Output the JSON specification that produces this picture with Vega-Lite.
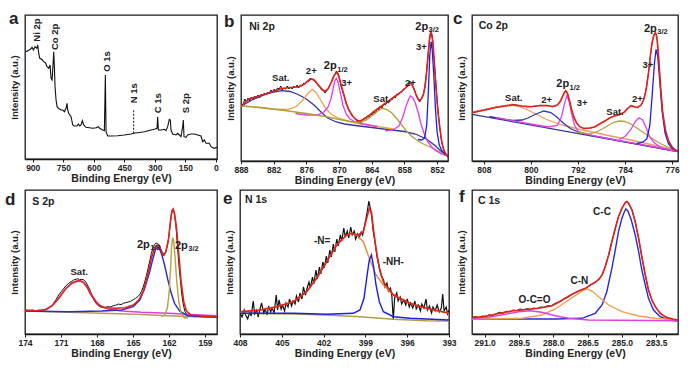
{
"$schema": "https://vega.github.io/schema/vega-lite/v6.json",
"background": "white",
"padding": {"left": 4, "top": 9, "right": 4, "bottom": 4},
"config": {
  "font": "Liberation Sans",
  "view": {"stroke": "#1a1a1a", "strokeWidth": 1.3},
  "axis": {"grid": false, "labelFont": "Liberation Sans", "labelFontWeight": "bold", "labelFontSize": 8.5, "labelColor": "#222", "titleFont": "Liberation Sans", "titleFontWeight": "bold", "titleColor": "#222", "domainColor": "#1a1a1a", "tickColor": "#1a1a1a", "domainWidth": 1.3},
  "axisX": {"tickSize": 3, "labelPadding": 1, "titlePadding": 2, "titleFontSize": 10.5, "labelFlush": false, "labelOverlap": false},
  "axisY": {"labels": false, "ticks": false, "domain": false, "titleFontSize": 9.5, "titlePadding": 6},
  "text": {"font": "Liberation Sans", "fontWeight": "bold", "color": "#222"}
},
"datasets": {
  "a_raw": [{"x":932.7,"y":107.3},{"x":924.5,"y":108.3},{"x":911.5,"y":109.7},{"x":903.3,"y":111.7},{"x":896.7,"y":109},{"x":888.5,"y":112.3},{"x":880.4,"y":110.7},{"x":875.5,"y":114},{"x":870.5,"y":105.7},{"x":865.6,"y":100.7},{"x":855.8,"y":99.7},{"x":846,"y":97.3},{"x":837.8,"y":96.3},{"x":829.6,"y":92.3},{"x":821.5,"y":90.7},{"x":814.9,"y":94},{"x":810,"y":80.7},{"x":805.1,"y":79},{"x":801.8,"y":89},{"x":796.9,"y":107.3},{"x":793.6,"y":92.3},{"x":790.4,"y":72.3},{"x":785.5,"y":59},{"x":780.5,"y":52.3},{"x":774,"y":50.7},{"x":760.9,"y":49},{"x":752.7,"y":49},{"x":744.5,"y":47.3},{"x":736.4,"y":50.7},{"x":731.5,"y":55.7},{"x":728.2,"y":49},{"x":723.3,"y":45.7},{"x":711.8,"y":42.3},{"x":703.6,"y":34},{"x":695.5,"y":33},{"x":682.4,"y":33},{"x":675.8,"y":35},{"x":669.3,"y":33},{"x":662.7,"y":34},{"x":656.2,"y":38.3},{"x":649.6,"y":34},{"x":638.2,"y":31.7},{"x":621.8,"y":31.3},{"x":605.5,"y":30.7},{"x":589.1,"y":31.3},{"x":577.6,"y":32.3},{"x":571.1,"y":30.7},{"x":556.4,"y":29},{"x":548.2,"y":28.3},{"x":543.3,"y":84},{"x":540,"y":27.3},{"x":531.8,"y":23},{"x":515.5,"y":23},{"x":482.7,"y":23.3},{"x":450,"y":24},{"x":417.3,"y":25},{"x":404.2,"y":25.7},{"x":384.5,"y":26.3},{"x":351.8,"y":27.3},{"x":319.1,"y":29},{"x":302.7,"y":29.7},{"x":289.6,"y":30.7},{"x":286.4,"y":42.3},{"x":283.1,"y":29},{"x":270,"y":29},{"x":253.6,"y":29.7},{"x":245.5,"y":28.3},{"x":237.3,"y":32.3},{"x":229.1,"y":39.7},{"x":224.2,"y":39},{"x":220.9,"y":29},{"x":212.7,"y":25},{"x":196.4,"y":24},{"x":188.2,"y":25.7},{"x":180,"y":24},{"x":171.8,"y":22.3},{"x":163.6,"y":32.3},{"x":160.4,"y":39},{"x":157.1,"y":22.3},{"x":147.3,"y":21.7},{"x":139.1,"y":24},{"x":122.7,"y":25},{"x":106.4,"y":25},{"x":90,"y":24},{"x":73.6,"y":23},{"x":65.5,"y":17.3},{"x":57.3,"y":19},{"x":49.1,"y":15.7},{"x":32.7,"y":15.7},{"x":24.5,"y":12.3},{"x":8.2,"y":10.7},{"x":-4.9,"y":11.7}],
  "b_raw": [{"x":887.9,"y":55},{"x":887.6,"y":57},{"x":887.3,"y":62},{"x":887,"y":59},{"x":886.7,"y":63},{"x":886.4,"y":60},{"x":886.1,"y":64},{"x":885.8,"y":61},{"x":885.5,"y":65},{"x":885.2,"y":63},{"x":884.9,"y":66},{"x":884.6,"y":63},{"x":884.3,"y":67},{"x":884,"y":65},{"x":883.7,"y":68},{"x":883.4,"y":66},{"x":883.1,"y":69},{"x":882.8,"y":67},{"x":882.5,"y":71},{"x":882.2,"y":69},{"x":881.9,"y":72},{"x":881.6,"y":70},{"x":881.3,"y":73},{"x":881,"y":72},{"x":880.7,"y":75},{"x":880.4,"y":71},{"x":880.1,"y":73},{"x":879.8,"y":72},{"x":879.5,"y":75},{"x":879.2,"y":72},{"x":878.9,"y":74},{"x":878.6,"y":72},{"x":878.3,"y":75},{"x":878,"y":73},{"x":877.7,"y":76},{"x":877.4,"y":73},{"x":877.1,"y":76},{"x":876.8,"y":75},{"x":876.5,"y":78},{"x":876.2,"y":77},{"x":875.9,"y":80},{"x":875.6,"y":79},{"x":875.3,"y":83},{"x":875,"y":81},{"x":874.7,"y":82},{"x":874.4,"y":79},{"x":874.1,"y":78},{"x":873.8,"y":75},{"x":873.5,"y":74},{"x":873.2,"y":71},{"x":872.9,"y":71},{"x":872.6,"y":68},{"x":872.3,"y":70},{"x":872,"y":72},{"x":871.7,"y":76},{"x":871.4,"y":79},{"x":871.1,"y":84},{"x":870.8,"y":86},{"x":870.5,"y":90},{"x":870.2,"y":88},{"x":869.9,"y":82},{"x":869.6,"y":74},{"x":869.3,"y":69},{"x":869,"y":64},{"x":868.7,"y":58},{"x":868.4,"y":54},{"x":868.1,"y":50},{"x":867.8,"y":48},{"x":867.5,"y":45},{"x":867.2,"y":43},{"x":866.9,"y":42},{"x":866.6,"y":39},{"x":866.3,"y":41},{"x":866,"y":38},{"x":865.7,"y":41},{"x":865.4,"y":43},{"x":865.1,"y":42},{"x":864.8,"y":45},{"x":864.5,"y":44},{"x":864.2,"y":47},{"x":863.9,"y":46},{"x":863.6,"y":49},{"x":863.3,"y":48},{"x":863,"y":52},{"x":862.7,"y":51},{"x":862.4,"y":55},{"x":862.1,"y":53},{"x":861.8,"y":57},{"x":861.5,"y":56},{"x":861.2,"y":59},{"x":860.9,"y":58},{"x":860.6,"y":62},{"x":860.3,"y":61},{"x":860,"y":64},{"x":859.7,"y":63},{"x":859.4,"y":67},{"x":859.1,"y":66},{"x":858.8,"y":69},{"x":858.5,"y":69},{"x":858.2,"y":72},{"x":857.9,"y":72},{"x":857.6,"y":75},{"x":857.3,"y":76},{"x":857,"y":80},{"x":856.7,"y":78},{"x":856.4,"y":74},{"x":856.1,"y":70},{"x":855.8,"y":65},{"x":855.5,"y":62},{"x":855.2,"y":59},{"x":854.9,"y":62},{"x":854.6,"y":65},{"x":854.3,"y":72},{"x":854,"y":86},{"x":853.7,"y":103},{"x":853.4,"y":121},{"x":853.2,"y":129},{"x":853,"y":127},{"x":852.8,"y":120},{"x":852.6,"y":104},{"x":852.4,"y":90},{"x":852.1,"y":68},{"x":851.8,"y":48},{"x":851.5,"y":33},{"x":851.2,"y":20},{"x":850.9,"y":13},{"x":850.6,"y":8},{"x":850.3,"y":5},{"x":850,"y":4}],
  "b_fit": [{"x":887.9,"y":55},{"x":886.5,"y":62},{"x":885,"y":64.5},{"x":883.5,"y":67},{"x":882,"y":70},{"x":880.5,"y":72.5},{"x":879,"y":73.5},{"x":877.5,"y":74},{"x":876.5,"y":76.5},{"x":875.5,"y":81},{"x":875,"y":82},{"x":874.5,"y":80.5},{"x":873.8,"y":76},{"x":873,"y":71},{"x":872.5,"y":70},{"x":872,"y":72.5},{"x":871.4,"y":79},{"x":870.9,"y":85.5},{"x":870.5,"y":88.5},{"x":870.2,"y":87},{"x":869.8,"y":80},{"x":869.3,"y":70},{"x":868.8,"y":60},{"x":868.3,"y":52},{"x":867.6,"y":45.5},{"x":867,"y":42},{"x":866.5,"y":40},{"x":866,"y":40.5},{"x":865.4,"y":42},{"x":864.5,"y":45.5},{"x":863.6,"y":49.5},{"x":862.7,"y":53},{"x":861.8,"y":56.5},{"x":860.9,"y":60},{"x":859.9,"y":64},{"x":859,"y":67.5},{"x":858.1,"y":71.5},{"x":857.4,"y":75},{"x":857,"y":77.5},{"x":856.7,"y":77},{"x":856.3,"y":73},{"x":855.9,"y":67},{"x":855.5,"y":62},{"x":855.2,"y":60.5},{"x":854.9,"y":62},{"x":854.5,"y":67},{"x":854.2,"y":75},{"x":853.9,"y":90},{"x":853.6,"y":110},{"x":853.35,"y":124},{"x":853.15,"y":128.5},{"x":852.95,"y":126},{"x":852.75,"y":117},{"x":852.5,"y":98},{"x":852.2,"y":74},{"x":851.9,"y":52},{"x":851.5,"y":33},{"x":851.1,"y":18},{"x":850.7,"y":10},{"x":850.3,"y":6},{"x":850,"y":5}],
  "b_comp": [
    {"s":"Sat. 2p1/2","x":887.9,"y":55},{"s":"Sat. 2p1/2","x":886,"y":61},{"s":"Sat. 2p1/2","x":884,"y":65.5},{"s":"Sat. 2p1/2","x":882,"y":69},{"s":"Sat. 2p1/2","x":880.5,"y":70.3},{"s":"Sat. 2p1/2","x":879,"y":69.5},{"s":"Sat. 2p1/2","x":877.5,"y":66.5},{"s":"Sat. 2p1/2","x":876,"y":62},{"s":"Sat. 2p1/2","x":874.6,"y":56},{"s":"Sat. 2p1/2","x":873.5,"y":50},{"s":"Sat. 2p1/2","x":872.1,"y":43},{"s":"Sat. 2p1/2","x":870.5,"y":39},{"s":"Sat. 2p1/2","x":869,"y":37},{"s":"Sat. 2p1/2","x":867,"y":35.5},{"s":"Sat. 2p1/2","x":864,"y":33.5},{"s":"Sat. 2p1/2","x":861,"y":31.5},{"s":"Sat. 2p1/2","x":858,"y":29.5},{"s":"Sat. 2p1/2","x":856,"y":27},{"s":"Sat. 2p1/2","x":854,"y":22},{"s":"Sat. 2p1/2","x":852.5,"y":16},{"s":"Sat. 2p1/2","x":851.5,"y":11},{"s":"Sat. 2p1/2","x":850.8,"y":7.5},{"s":"Sat. 2p1/2","x":850,"y":5.5},
    {"s":"Ni2+ 2p1/2","x":887.9,"y":55},{"s":"Ni2+ 2p1/2","x":885,"y":54},{"s":"Ni2+ 2p1/2","x":882,"y":52},{"s":"Ni2+ 2p1/2","x":879.5,"y":51.5},{"s":"Ni2+ 2p1/2","x":878,"y":54},{"s":"Ni2+ 2p1/2","x":876.8,"y":60},{"s":"Ni2+ 2p1/2","x":875.8,"y":67},{"s":"Ni2+ 2p1/2","x":874.9,"y":71.7},{"s":"Ni2+ 2p1/2","x":874.2,"y":68.5},{"s":"Ni2+ 2p1/2","x":873.4,"y":61},{"s":"Ni2+ 2p1/2","x":872.5,"y":53},{"s":"Ni2+ 2p1/2","x":871.5,"y":47},{"s":"Ni2+ 2p1/2","x":870,"y":42.5},{"s":"Ni2+ 2p1/2","x":868,"y":39.5},{"s":"Ni2+ 2p1/2","x":866,"y":37},{"s":"Ni2+ 2p1/2","x":863,"y":34.5},{"s":"Ni2+ 2p1/2","x":860,"y":32},
    {"s":"Ni3+ 2p1/2","x":878,"y":47.5},{"s":"Ni3+ 2p1/2","x":876,"y":46},{"s":"Ni3+ 2p1/2","x":874,"y":46},{"s":"Ni3+ 2p1/2","x":872.8,"y":49},{"s":"Ni3+ 2p1/2","x":872,"y":54},{"s":"Ni3+ 2p1/2","x":871.5,"y":62},{"s":"Ni3+ 2p1/2","x":871.1,"y":72},{"s":"Ni3+ 2p1/2","x":870.8,"y":79.5},{"s":"Ni3+ 2p1/2","x":870.5,"y":82.7},{"s":"Ni3+ 2p1/2","x":870.2,"y":79.5},{"s":"Ni3+ 2p1/2","x":869.8,"y":69},{"s":"Ni3+ 2p1/2","x":869.3,"y":56},{"s":"Ni3+ 2p1/2","x":868.7,"y":47},{"s":"Ni3+ 2p1/2","x":868,"y":42},{"s":"Ni3+ 2p1/2","x":867,"y":39},{"s":"Ni3+ 2p1/2","x":865.5,"y":37},{"s":"Ni3+ 2p1/2","x":863,"y":34.5},
    {"s":"Sat. 2p3/2","x":887.9,"y":55},{"s":"Sat. 2p3/2","x":884,"y":53},{"s":"Sat. 2p3/2","x":880,"y":50.5},{"s":"Sat. 2p3/2","x":876,"y":47.5},{"s":"Sat. 2p3/2","x":872,"y":44},{"s":"Sat. 2p3/2","x":869,"y":40.5},{"s":"Sat. 2p3/2","x":867,"y":38.5},{"s":"Sat. 2p3/2","x":866,"y":38.8},{"s":"Sat. 2p3/2","x":865,"y":41},{"s":"Sat. 2p3/2","x":864,"y":45},{"s":"Sat. 2p3/2","x":863,"y":49.5},{"s":"Sat. 2p3/2","x":862.1,"y":52.7},{"s":"Sat. 2p3/2","x":861.2,"y":51.5},{"s":"Sat. 2p3/2","x":860.3,"y":48},{"s":"Sat. 2p3/2","x":859.4,"y":42.5},{"s":"Sat. 2p3/2","x":858.5,"y":36},{"s":"Sat. 2p3/2","x":857.5,"y":29},{"s":"Sat. 2p3/2","x":856.5,"y":24},{"s":"Sat. 2p3/2","x":855.5,"y":20},{"s":"Sat. 2p3/2","x":854.5,"y":17},{"s":"Sat. 2p3/2","x":853.5,"y":14.5},{"s":"Sat. 2p3/2","x":852.5,"y":12},{"s":"Sat. 2p3/2","x":851.5,"y":9},{"s":"Sat. 2p3/2","x":850.5,"y":6.5},{"s":"Sat. 2p3/2","x":850,"y":5.5},
    {"s":"Ni2+ 2p3/2","x":861.5,"y":30},{"s":"Ni2+ 2p3/2","x":860,"y":31.5},{"s":"Ni2+ 2p3/2","x":859,"y":35},{"s":"Ni2+ 2p3/2","x":858.3,"y":44},{"s":"Ni2+ 2p3/2","x":857.7,"y":55},{"s":"Ni2+ 2p3/2","x":857.2,"y":62},{"s":"Ni2+ 2p3/2","x":856.9,"y":65},{"s":"Ni2+ 2p3/2","x":856.5,"y":63.5},{"s":"Ni2+ 2p3/2","x":856,"y":58},{"s":"Ni2+ 2p3/2","x":855.5,"y":49},{"s":"Ni2+ 2p3/2","x":855,"y":38},{"s":"Ni2+ 2p3/2","x":854.4,"y":27.5},{"s":"Ni2+ 2p3/2","x":853.8,"y":20},{"s":"Ni2+ 2p3/2","x":853,"y":14},{"s":"Ni2+ 2p3/2","x":852.3,"y":10.5},{"s":"Ni2+ 2p3/2","x":851.4,"y":7.7},{"s":"Ni2+ 2p3/2","x":850.5,"y":5.5},
    {"s":"Ni3+ 2p3/2","x":855.5,"y":21.5},{"s":"Ni3+ 2p3/2","x":854.8,"y":21},{"s":"Ni3+ 2p3/2","x":854.3,"y":23},{"s":"Ni3+ 2p3/2","x":853.9,"y":36},{"s":"Ni3+ 2p3/2","x":853.6,"y":70},{"s":"Ni3+ 2p3/2","x":853.35,"y":105},{"s":"Ni3+ 2p3/2","x":853.1,"y":119.3},{"s":"Ni3+ 2p3/2","x":852.9,"y":112},{"s":"Ni3+ 2p3/2","x":852.6,"y":85},{"s":"Ni3+ 2p3/2","x":852.3,"y":52},{"s":"Ni3+ 2p3/2","x":852,"y":29},{"s":"Ni3+ 2p3/2","x":851.6,"y":16},{"s":"Ni3+ 2p3/2","x":851.1,"y":10},{"s":"Ni3+ 2p3/2","x":850.6,"y":7},{"s":"Ni3+ 2p3/2","x":850,"y":5.5}
  ],
  "c_raw": [{"x":809.99,"y":48.3},{"x":809.7,"y":49.5},{"x":809.42,"y":49.3},{"x":809.1,"y":50.3},{"x":808.85,"y":50},{"x":808.5,"y":51},{"x":808,"y":50.7},{"x":807.6,"y":52},{"x":807.15,"y":51.7},{"x":806.7,"y":53.3},{"x":806.29,"y":53},{"x":805.9,"y":54.3},{"x":805.44,"y":54},{"x":805,"y":55.3},{"x":804.59,"y":55},{"x":804.2,"y":56},{"x":803.74,"y":55.7},{"x":803.3,"y":57},{"x":802.88,"y":56.3},{"x":802.6,"y":56.7},{"x":802.32,"y":55.7},{"x":801.9,"y":55.3},{"x":801.46,"y":54.3},{"x":801,"y":54.7},{"x":800.61,"y":53.7},{"x":800.2,"y":54.7},{"x":799.76,"y":54.3},{"x":799.3,"y":55.3},{"x":798.91,"y":55},{"x":798.5,"y":56},{"x":798.05,"y":55.7},{"x":797.6,"y":55.7},{"x":797.2,"y":55.3},{"x":796.8,"y":54.7},{"x":796.35,"y":54},{"x":796.05,"y":54.7},{"x":795.78,"y":55},{"x":795.5,"y":56.3},{"x":795.21,"y":58.3},{"x":795,"y":60.3},{"x":794.76,"y":63.3},{"x":794.55,"y":66},{"x":794.36,"y":68.3},{"x":794.2,"y":69.7},{"x":794.07,"y":70.3},{"x":793.93,"y":69.3},{"x":793.79,"y":67.7},{"x":793.65,"y":65},{"x":793.51,"y":61.7},{"x":793.3,"y":56.3},{"x":793.11,"y":51.7},{"x":792.9,"y":47},{"x":792.65,"y":43.3},{"x":792.4,"y":40},{"x":792.2,"y":37.7},{"x":791.9,"y":35.7},{"x":791.69,"y":34.3},{"x":791.3,"y":33.3},{"x":790.95,"y":32.3},{"x":790.5,"y":32.7},{"x":790.1,"y":32.7},{"x":789.7,"y":33.3},{"x":789.24,"y":34},{"x":788.8,"y":35.3},{"x":788.39,"y":36.7},{"x":788,"y":38.3},{"x":787.54,"y":39.7},{"x":787.1,"y":41.3},{"x":786.69,"y":42.7},{"x":786.3,"y":44},{"x":785.83,"y":45},{"x":785.4,"y":45.7},{"x":784.98,"y":46.3},{"x":784.55,"y":47.7},{"x":784.13,"y":49},{"x":783.85,"y":50.7},{"x":783.56,"y":52.3},{"x":783.27,"y":54},{"x":782.99,"y":55.7},{"x":782.7,"y":55},{"x":782.42,"y":54.3},{"x":782.13,"y":53.7},{"x":781.85,"y":53},{"x":781.57,"y":54.3},{"x":781.29,"y":55.7},{"x":781.05,"y":58.3},{"x":780.83,"y":61.7},{"x":780.63,"y":66},{"x":780.43,"y":71.7},{"x":780.23,"y":80},{"x":780.03,"y":88.3},{"x":779.85,"y":97},{"x":779.69,"y":105},{"x":779.55,"y":112},{"x":779.41,"y":118.3},{"x":779.27,"y":122.5},{"x":779.12,"y":125.7},{"x":779,"y":127.5},{"x":778.9,"y":128.3},{"x":778.73,"y":127.7},{"x":778.62,"y":124.5},{"x":778.5,"y":120},{"x":778.38,"y":111},{"x":778.27,"y":101.7},{"x":778.13,"y":88},{"x":777.99,"y":75},{"x":777.8,"y":61},{"x":777.59,"y":48.3},{"x":777.36,"y":38},{"x":777.14,"y":30},{"x":776.88,"y":24.3},{"x":776.62,"y":20},{"x":776.3,"y":16.5},{"x":776,"y":14},{"x":775.7,"y":12.3},{"x":775.43,"y":11},{"x":775.2,"y":10.3},{"x":775,"y":9.7}],
  "c_fit": [{"x":810,"y":48.3},{"x":808,"y":50.7},{"x":806,"y":53.5},{"x":804,"y":55.3},{"x":802.9,"y":56.3},{"x":801.5,"y":55},{"x":800,"y":54.2},{"x":798.5,"y":55.2},{"x":797.2,"y":55.5},{"x":796.3,"y":54.5},{"x":795.5,"y":56},{"x":795,"y":59.5},{"x":794.6,"y":64.5},{"x":794.3,"y":68.5},{"x":794.07,"y":70.3},{"x":793.8,"y":68},{"x":793.5,"y":61.7},{"x":793.1,"y":51.7},{"x":792.65,"y":43.3},{"x":792.2,"y":37.7},{"x":791.7,"y":34.3},{"x":791,"y":32.6},{"x":790.1,"y":32.7},{"x":789.2,"y":34},{"x":788.4,"y":36.7},{"x":787.5,"y":39.7},{"x":786.7,"y":42.7},{"x":785.8,"y":45},{"x":785,"y":46.3},{"x":784.1,"y":49},{"x":783.6,"y":52.3},{"x":783,"y":55.2},{"x":782.4,"y":54.3},{"x":781.9,"y":53.5},{"x":781.3,"y":55.7},{"x":780.8,"y":61.7},{"x":780.4,"y":71.7},{"x":780,"y":88.3},{"x":779.7,"y":105},{"x":779.4,"y":118.3},{"x":779.1,"y":125.7},{"x":778.85,"y":128.3},{"x":778.6,"y":124},{"x":778.4,"y":112},{"x":778.2,"y":95},{"x":777.9,"y":70},{"x":777.6,"y":48.3},{"x":777.1,"y":30},{"x":776.6,"y":20},{"x":776,"y":14},{"x":775.4,"y":11},{"x":775,"y":9.7}],
  "c_comp": [
    {"s":"bg","x":810,"y":46.7},{"s":"bg","x":775,"y":9.3},
    {"s":"Sat. 2p1/2","x":810,"y":48.3},{"s":"Sat. 2p1/2","x":808,"y":51},{"s":"Sat. 2p1/2","x":806,"y":53.5},{"s":"Sat. 2p1/2","x":804.5,"y":55.3},{"s":"Sat. 2p1/2","x":803.2,"y":55.7},{"s":"Sat. 2p1/2","x":802,"y":54.5},{"s":"Sat. 2p1/2","x":800.5,"y":51},{"s":"Sat. 2p1/2","x":799,"y":46.5},{"s":"Sat. 2p1/2","x":797.5,"y":42},{"s":"Sat. 2p1/2","x":796,"y":38.5},{"s":"Sat. 2p1/2","x":794,"y":35},{"s":"Sat. 2p1/2","x":792,"y":32},{"s":"Sat. 2p1/2","x":790,"y":29.5},{"s":"Sat. 2p1/2","x":788,"y":27},{"s":"Sat. 2p1/2","x":786,"y":24.5},{"s":"Sat. 2p1/2","x":783,"y":21},{"s":"Sat. 2p1/2","x":780,"y":17},{"s":"Sat. 2p1/2","x":777,"y":13},{"s":"Sat. 2p1/2","x":775,"y":10},
    {"s":"Co2+ 2p1/2","x":807,"y":44.5},{"s":"Co2+ 2p1/2","x":805,"y":42},{"s":"Co2+ 2p1/2","x":803,"y":40.5},{"s":"Co2+ 2p1/2","x":801.5,"y":41},{"s":"Co2+ 2p1/2","x":800.5,"y":43},{"s":"Co2+ 2p1/2","x":799.3,"y":46.5},{"s":"Co2+ 2p1/2","x":797.8,"y":50},{"s":"Co2+ 2p1/2","x":796.6,"y":48.5},{"s":"Co2+ 2p1/2","x":795.6,"y":44},{"s":"Co2+ 2p1/2","x":794.5,"y":38},{"s":"Co2+ 2p1/2","x":793.3,"y":32.5},{"s":"Co2+ 2p1/2","x":792,"y":29},{"s":"Co2+ 2p1/2","x":790,"y":25.8},{"s":"Co2+ 2p1/2","x":787,"y":22.5},{"s":"Co2+ 2p1/2","x":784,"y":19.2},{"s":"Co2+ 2p1/2","x":780,"y":14.8},{"s":"Co2+ 2p1/2","x":777,"y":11.5},{"s":"Co2+ 2p1/2","x":775,"y":9.5},
    {"s":"Co3+ 2p1/2","x":806,"y":43.5},{"s":"Co3+ 2p1/2","x":802,"y":39.2},{"s":"Co3+ 2p1/2","x":799,"y":36},{"s":"Co3+ 2p1/2","x":797,"y":34},{"s":"Co3+ 2p1/2","x":795.5,"y":35.5},{"s":"Co3+ 2p1/2","x":794.8,"y":44},{"s":"Co3+ 2p1/2","x":794.3,"y":57},{"s":"Co3+ 2p1/2","x":793.9,"y":65},{"s":"Co3+ 2p1/2","x":793.5,"y":60},{"s":"Co3+ 2p1/2","x":793.1,"y":48},{"s":"Co3+ 2p1/2","x":792.6,"y":36},{"s":"Co3+ 2p1/2","x":792,"y":30},{"s":"Co3+ 2p1/2","x":791,"y":27.5},{"s":"Co3+ 2p1/2","x":789,"y":24.8},{"s":"Co3+ 2p1/2","x":786,"y":21.5},{"s":"Co3+ 2p1/2","x":782,"y":17.3},{"s":"Co3+ 2p1/2","x":778,"y":13},{"s":"Co3+ 2p1/2","x":775,"y":9.8},
    {"s":"Sat. 2p3/2","x":792,"y":29},{"s":"Sat. 2p3/2","x":790,"y":27},{"s":"Sat. 2p3/2","x":788.5,"y":30},{"s":"Sat. 2p3/2","x":787,"y":35},{"s":"Sat. 2p3/2","x":786,"y":38.5},{"s":"Sat. 2p3/2","x":785,"y":40},{"s":"Sat. 2p3/2","x":784,"y":39.5},{"s":"Sat. 2p3/2","x":783,"y":37},{"s":"Sat. 2p3/2","x":782,"y":33},{"s":"Sat. 2p3/2","x":781,"y":29},{"s":"Sat. 2p3/2","x":780,"y":25},{"s":"Sat. 2p3/2","x":779,"y":21},{"s":"Sat. 2p3/2","x":778,"y":17.5},{"s":"Sat. 2p3/2","x":777,"y":14.5},{"s":"Sat. 2p3/2","x":776,"y":12},{"s":"Sat. 2p3/2","x":775,"y":9.5},
    {"s":"Co2+ 2p3/2","x":785,"y":21.7},{"s":"Co2+ 2p3/2","x":784,"y":24.5},{"s":"Co2+ 2p3/2","x":783,"y":31.5},{"s":"Co2+ 2p3/2","x":782.2,"y":40},{"s":"Co2+ 2p3/2","x":781.6,"y":43.3},{"s":"Co2+ 2p3/2","x":781,"y":41},{"s":"Co2+ 2p3/2","x":780.4,"y":33},{"s":"Co2+ 2p3/2","x":779.8,"y":24},{"s":"Co2+ 2p3/2","x":779,"y":18},{"s":"Co2+ 2p3/2","x":778,"y":14},{"s":"Co2+ 2p3/2","x":777,"y":12},{"s":"Co2+ 2p3/2","x":776,"y":10.5},{"s":"Co2+ 2p3/2","x":775,"y":9.5},
    {"s":"Co3+ 2p3/2","x":782,"y":17.5},{"s":"Co3+ 2p3/2","x":781,"y":18.8},{"s":"Co3+ 2p3/2","x":780.3,"y":22},{"s":"Co3+ 2p3/2","x":779.8,"y":35},{"s":"Co3+ 2p3/2","x":779.4,"y":65},{"s":"Co3+ 2p3/2","x":779,"y":98},{"s":"Co3+ 2p3/2","x":778.73,"y":111.7},{"s":"Co3+ 2p3/2","x":778.45,"y":105},{"s":"Co3+ 2p3/2","x":778.1,"y":80},{"s":"Co3+ 2p3/2","x":777.7,"y":50},{"s":"Co3+ 2p3/2","x":777.2,"y":28},{"s":"Co3+ 2p3/2","x":776.6,"y":17},{"s":"Co3+ 2p3/2","x":776,"y":12.5},{"s":"Co3+ 2p3/2","x":775,"y":9.5}
  ],
  "d_raw": [{"x":174,"y":24},{"x":173.7,"y":23.3},{"x":173.39,"y":24},{"x":173.1,"y":23},{"x":172.84,"y":23.7},{"x":172.6,"y":23.3},{"x":172.43,"y":24.3},{"x":172.2,"y":24.7},{"x":172.01,"y":26},{"x":171.8,"y":28.3},{"x":171.6,"y":31},{"x":171.4,"y":34.7},{"x":171.19,"y":39},{"x":170.98,"y":42.3},{"x":170.77,"y":45.7},{"x":170.55,"y":48.7},{"x":170.36,"y":50.7},{"x":170.15,"y":52.3},{"x":169.95,"y":54},{"x":169.75,"y":54.7},{"x":169.59,"y":55.3},{"x":169.45,"y":54.3},{"x":169.31,"y":54.7},{"x":169.12,"y":54.3},{"x":168.93,"y":52},{"x":168.8,"y":49},{"x":168.65,"y":45.7},{"x":168.5,"y":41.3},{"x":168.38,"y":37.3},{"x":168.25,"y":34},{"x":168.1,"y":31},{"x":167.95,"y":29},{"x":167.82,"y":27.7},{"x":167.65,"y":26.7},{"x":167.47,"y":26.3},{"x":167.25,"y":27},{"x":167.05,"y":27.3},{"x":166.85,"y":27},{"x":166.64,"y":28.3},{"x":166.45,"y":28.7},{"x":166.22,"y":30},{"x":166,"y":29.3},{"x":165.81,"y":30.7},{"x":165.6,"y":31.3},{"x":165.4,"y":32},{"x":165.2,"y":32.7},{"x":164.98,"y":34.3},{"x":164.78,"y":35.7},{"x":164.57,"y":37.7},{"x":164.43,"y":39.7},{"x":164.29,"y":42.7},{"x":164.15,"y":47},{"x":164.02,"y":52.3},{"x":163.88,"y":58.7},{"x":163.74,"y":65.7},{"x":163.6,"y":73.3},{"x":163.47,"y":80.7},{"x":163.33,"y":86},{"x":163.19,"y":89.7},{"x":163.08,"y":91},{"x":162.97,"y":90.7},{"x":162.89,"y":90},{"x":162.81,"y":89},{"x":162.72,"y":86},{"x":162.64,"y":82.3},{"x":162.56,"y":79.3},{"x":162.48,"y":78.3},{"x":162.4,"y":79.3},{"x":162.31,"y":81},{"x":162.2,"y":85.3},{"x":162.09,"y":91},{"x":161.98,"y":101},{"x":161.87,"y":112.3},{"x":161.8,"y":119},{"x":161.73,"y":124},{"x":161.66,"y":124.7},{"x":161.59,"y":122.3},{"x":161.51,"y":116.7},{"x":161.43,"y":109},{"x":161.35,"y":97},{"x":161.26,"y":82.3},{"x":161.15,"y":66},{"x":161.04,"y":52.3},{"x":160.95,"y":41},{"x":160.85,"y":32.3},{"x":160.75,"y":26.3},{"x":160.66,"y":22.3},{"x":160.55,"y":20},{"x":160.44,"y":19},{"x":160.2,"y":18},{"x":159.88,"y":17.3},{"x":159.6,"y":17.7},{"x":159.33,"y":17.3},{"x":159.05,"y":17},{"x":158.78,"y":16.7},{"x":158.4,"y":17},{"x":158.01,"y":16.7}],
  "d_fit": [{"x":174,"y":24},{"x":173.12,"y":23.3},{"x":172.29,"y":24.3},{"x":171.74,"y":28.3},{"x":171.19,"y":35.7},{"x":170.64,"y":45},{"x":170.09,"y":51},{"x":169.67,"y":53},{"x":169.4,"y":53.3},{"x":169.12,"y":51.7},{"x":168.84,"y":47.3},{"x":168.57,"y":40.7},{"x":168.21,"y":34},{"x":167.88,"y":29},{"x":167.33,"y":26.3},{"x":166.5,"y":25.7},{"x":165.67,"y":26.3},{"x":164.98,"y":29},{"x":164.52,"y":34},{"x":164.16,"y":42.3},{"x":163.8,"y":57.3},{"x":163.47,"y":75.7},{"x":163.19,"y":86.3},{"x":162.97,"y":89},{"x":162.78,"y":87.3},{"x":162.56,"y":81.3},{"x":162.42,"y":79},{"x":162.26,"y":82.3},{"x":162.03,"y":95.7},{"x":161.87,"y":114},{"x":161.76,"y":123},{"x":161.65,"y":125},{"x":161.54,"y":120.7},{"x":161.37,"y":105.7},{"x":161.18,"y":79},{"x":160.99,"y":52.3},{"x":160.77,"y":32.3},{"x":160.55,"y":23},{"x":160.16,"y":19},{"x":159.33,"y":18},{"x":158.01,"y":17.3}],
  "d_comp": [
    {"s":"bg","x":174,"y":23},{"s":"bg","x":170.36,"y":21.7},{"s":"bg","x":167.6,"y":20.7},{"s":"bg","x":164.85,"y":19.7},{"s":"bg","x":162.09,"y":18.3},{"s":"bg","x":159.33,"y":17},{"s":"bg","x":158.01,"y":16.7},
    {"s":"Sat.","x":174,"y":23},{"s":"Sat.","x":173.12,"y":23},{"s":"Sat.","x":172.29,"y":24.3},{"s":"Sat.","x":171.74,"y":28.3},{"s":"Sat.","x":171.19,"y":35.7},{"s":"Sat.","x":170.64,"y":44.7},{"s":"Sat.","x":170.09,"y":50.7},{"s":"Sat.","x":169.67,"y":52.7},{"s":"Sat.","x":169.4,"y":53},{"s":"Sat.","x":169.12,"y":51.3},{"s":"Sat.","x":168.76,"y":45.7},{"s":"Sat.","x":168.43,"y":39},{"s":"Sat.","x":168.02,"y":31.7},{"s":"Sat.","x":167.6,"y":27.3},{"s":"Sat.","x":167.05,"y":25},{"s":"Sat.","x":165.95,"y":23},{"s":"Sat.","x":164.29,"y":21.7},{"s":"Sat.","x":162.09,"y":20.7},{"s":"Sat.","x":159.33,"y":19},{"s":"Sat.","x":158.01,"y":18.3},
    {"s":"2p1/2","x":174,"y":23},{"s":"2p1/2","x":170.36,"y":22.3},{"s":"2p1/2","x":167.6,"y":23},{"s":"2p1/2","x":165.95,"y":24},{"s":"2p1/2","x":164.98,"y":27.3},{"s":"2p1/2","x":164.43,"y":34},{"s":"2p1/2","x":164.02,"y":45.7},{"s":"2p1/2","x":163.61,"y":62.3},{"s":"2p1/2","x":163.33,"y":75.7},{"s":"2p1/2","x":163.11,"y":85},{"s":"2p1/2","x":162.97,"y":86.7},{"s":"2p1/2","x":162.81,"y":85.7},{"s":"2p1/2","x":162.59,"y":79},{"s":"2p1/2","x":162.37,"y":69},{"s":"2p1/2","x":162.09,"y":54},{"s":"2p1/2","x":161.81,"y":40.7},{"s":"2p1/2","x":161.54,"y":30.7},{"s":"2p1/2","x":161.12,"y":23},{"s":"2p1/2","x":160.44,"y":18.3},{"s":"2p1/2","x":158.01,"y":16.7},
    {"s":"2p3/2","x":162.64,"y":17.3},{"s":"2p3/2","x":162.37,"y":19},{"s":"2p3/2","x":162.14,"y":25.7},{"s":"2p3/2","x":161.98,"y":42.3},{"s":"2p3/2","x":161.87,"y":65.7},{"s":"2p3/2","x":161.79,"y":85.7},{"s":"2p3/2","x":161.7,"y":96.3},{"s":"2p3/2","x":161.62,"y":94},{"s":"2p3/2","x":161.51,"y":79},{"s":"2p3/2","x":161.35,"y":52.3},{"s":"2p3/2","x":161.18,"y":32.3},{"s":"2p3/2","x":160.99,"y":20.7},{"s":"2p3/2","x":160.77,"y":16.7},{"s":"2p3/2","x":160.44,"y":15.7}
  ],
  "e_raw": [{"x":408,"y":21},{"x":407.85,"y":17},{"x":407.7,"y":24},{"x":407.6,"y":19},{"x":407.45,"y":15},{"x":407.3,"y":22},{"x":407.2,"y":18},{"x":407.05,"y":33},{"x":406.95,"y":20},{"x":406.8,"y":24},{"x":406.7,"y":17},{"x":406.55,"y":26},{"x":406.45,"y":31},{"x":406.3,"y":21},{"x":406.2,"y":25},{"x":406.05,"y":19},{"x":405.95,"y":28},{"x":405.8,"y":22},{"x":405.7,"y":26},{"x":405.55,"y":21},{"x":405.4,"y":39},{"x":405.3,"y":24},{"x":405.2,"y":34},{"x":405.05,"y":25},{"x":404.95,"y":29},{"x":404.8,"y":23},{"x":404.7,"y":31},{"x":404.55,"y":27},{"x":404.45,"y":35},{"x":404.3,"y":28},{"x":404.2,"y":33},{"x":404.05,"y":30},{"x":403.95,"y":38},{"x":403.8,"y":32},{"x":403.7,"y":41},{"x":403.55,"y":35},{"x":403.45,"y":47},{"x":403.3,"y":39},{"x":403.2,"y":45},{"x":403.05,"y":52},{"x":402.95,"y":46},{"x":402.8,"y":57},{"x":402.7,"y":50},{"x":402.55,"y":64},{"x":402.45,"y":55},{"x":402.3,"y":67},{"x":402.2,"y":60},{"x":402.05,"y":72},{"x":401.95,"y":66},{"x":401.8,"y":78},{"x":401.7,"y":71},{"x":401.55,"y":84},{"x":401.45,"y":77},{"x":401.3,"y":90},{"x":401.2,"y":82},{"x":401.05,"y":95},{"x":400.95,"y":88},{"x":400.8,"y":99},{"x":400.7,"y":93},{"x":400.55,"y":106},{"x":400.45,"y":97},{"x":400.3,"y":103},{"x":400.2,"y":96},{"x":400.05,"y":107},{"x":399.95,"y":99},{"x":399.8,"y":103},{"x":399.7,"y":95},{"x":399.55,"y":100},{"x":399.45,"y":96},{"x":399.3,"y":102},{"x":399.2,"y":99},{"x":399.05,"y":109},{"x":398.95,"y":116},{"x":398.85,"y":124},{"x":398.75,"y":133},{"x":398.65,"y":126},{"x":398.55,"y":118},{"x":398.45,"y":104},{"x":398.35,"y":95},{"x":398.25,"y":86},{"x":398.15,"y":76},{"x":398.05,"y":70},{"x":397.95,"y":63},{"x":397.85,"y":58},{"x":397.7,"y":54},{"x":397.6,"y":47},{"x":397.45,"y":51},{"x":397.35,"y":43},{"x":397.2,"y":46},{"x":397.1,"y":38},{"x":397,"y":14},{"x":396.9,"y":36},{"x":396.75,"y":41},{"x":396.65,"y":33},{"x":396.5,"y":37},{"x":396.4,"y":30},{"x":396.25,"y":34},{"x":396.1,"y":29},{"x":396,"y":35},{"x":395.85,"y":27},{"x":395.75,"y":31},{"x":395.6,"y":26},{"x":395.45,"y":33},{"x":395.35,"y":25},{"x":395.2,"y":29},{"x":395.05,"y":23},{"x":394.95,"y":30},{"x":394.8,"y":26},{"x":394.65,"y":35},{"x":394.55,"y":24},{"x":394.4,"y":28},{"x":394.25,"y":21},{"x":394.15,"y":27},{"x":394,"y":23},{"x":393.85,"y":29},{"x":393.7,"y":22},{"x":393.55,"y":26},{"x":393.45,"y":40},{"x":393.35,"y":23},{"x":393.2,"y":27},{"x":393.1,"y":20},{"x":393,"y":24}],
  "e_fit": [{"x":408,"y":22.3},{"x":406.56,"y":24},{"x":405.37,"y":27.3},{"x":404.17,"y":32.3},{"x":403.22,"y":42.3},{"x":402.5,"y":55.7},{"x":401.78,"y":72.3},{"x":401.06,"y":89},{"x":400.34,"y":99},{"x":399.99,"y":100.7},{"x":399.51,"y":99},{"x":399.15,"y":102.3},{"x":398.91,"y":115.7},{"x":398.72,"y":125.7},{"x":398.57,"y":122.3},{"x":398.43,"y":105.7},{"x":398.24,"y":85.7},{"x":398,"y":65.7},{"x":397.71,"y":52.3},{"x":396.99,"y":39},{"x":395.8,"y":30.7},{"x":394.6,"y":25.7},{"x":393,"y":20.7}],
  "e_comp": [
    {"s":"bg","x":408,"y":20.7},{"s":"bg","x":404.17,"y":20},{"s":"bg","x":401.78,"y":19},{"s":"bg","x":399.39,"y":17.3},{"s":"bg","x":396.99,"y":14.7},{"s":"bg","x":394.6,"y":13.3},{"s":"bg","x":393,"y":13},
    {"s":"-N=","x":408,"y":22.3},{"s":"-N=","x":406.56,"y":24},{"s":"-N=","x":405.37,"y":27.3},{"s":"-N=","x":404.17,"y":32.3},{"s":"-N=","x":403.22,"y":42.3},{"s":"-N=","x":402.5,"y":55.7},{"s":"-N=","x":401.78,"y":72.3},{"s":"-N=","x":401.06,"y":89},{"s":"-N=","x":400.34,"y":99},{"s":"-N=","x":399.99,"y":100.7},{"s":"-N=","x":399.63,"y":99},{"s":"-N=","x":399.15,"y":92.3},{"s":"-N=","x":398.72,"y":75.7},{"s":"-N=","x":398.24,"y":59},{"s":"-N=","x":397.71,"y":49},{"s":"-N=","x":396.99,"y":39},{"s":"-N=","x":395.8,"y":30.7},{"s":"-N=","x":394.6,"y":25.7},{"s":"-N=","x":393,"y":20.7},
    {"s":"-NH-","x":408,"y":20.7},{"s":"-NH-","x":404.17,"y":20.7},{"s":"-NH-","x":401.78,"y":19.7},{"s":"-NH-","x":399.87,"y":20.7},{"s":"-NH-","x":399.39,"y":24},{"s":"-NH-","x":399.1,"y":35.7},{"s":"-NH-","x":398.91,"y":55.7},{"s":"-NH-","x":398.72,"y":74},{"s":"-NH-","x":398.57,"y":79},{"s":"-NH-","x":398.43,"y":69},{"s":"-NH-","x":398.24,"y":49},{"s":"-NH-","x":398,"y":32.3},{"s":"-NH-","x":397.71,"y":22.3},{"s":"-NH-","x":396.99,"y":17.3},{"s":"-NH-","x":395.8,"y":15.7},{"s":"-NH-","x":393,"y":14}
  ],
  "f_raw": [{"x":291.55,"y":16.5},{"x":291.4,"y":17.5},{"x":291.25,"y":16.3},{"x":291.1,"y":18},{"x":290.95,"y":17.3},{"x":290.8,"y":19.3},{"x":290.65,"y":18.3},{"x":290.5,"y":20.3},{"x":290.35,"y":21.7},{"x":290.2,"y":20.7},{"x":290.05,"y":22.7},{"x":289.9,"y":22},{"x":289.75,"y":24},{"x":289.6,"y":23.3},{"x":289.45,"y":25},{"x":289.3,"y":24.3},{"x":289.15,"y":25.3},{"x":289,"y":24.7},{"x":288.85,"y":26},{"x":288.7,"y":25.3},{"x":288.55,"y":27},{"x":288.4,"y":26.7},{"x":288.25,"y":28.3},{"x":288.1,"y":28},{"x":287.95,"y":30.3},{"x":287.8,"y":31.7},{"x":287.65,"y":33},{"x":287.5,"y":35.7},{"x":287.35,"y":36.7},{"x":287.2,"y":39.3},{"x":287.05,"y":41.3},{"x":286.9,"y":43},{"x":286.75,"y":44.3},{"x":286.6,"y":45.3},{"x":286.45,"y":47.7},{"x":286.3,"y":50},{"x":286.15,"y":52},{"x":286,"y":55.3},{"x":285.87,"y":59},{"x":285.73,"y":67.3},{"x":285.58,"y":79},{"x":285.44,"y":92.3},{"x":285.29,"y":105.7},{"x":285.15,"y":117.3},{"x":285,"y":125.7},{"x":284.85,"y":131.7},{"x":284.78,"y":133},{"x":284.71,"y":130.7},{"x":284.56,"y":124},{"x":284.42,"y":112.3},{"x":284.27,"y":95.7},{"x":284.13,"y":77.3},{"x":283.98,"y":59},{"x":283.84,"y":44},{"x":283.69,"y":34},{"x":283.54,"y":27.3},{"x":283.33,"y":20.7},{"x":283.11,"y":17.3},{"x":282.82,"y":15},{"x":282.55,"y":14}],
  "f_fit": [{"x":291.55,"y":16.3},{"x":291.12,"y":17.3},{"x":290.68,"y":19},{"x":290.24,"y":21.3},{"x":289.81,"y":23},{"x":289.37,"y":24},{"x":288.93,"y":25},{"x":288.5,"y":26.3},{"x":288.06,"y":28.3},{"x":287.77,"y":31.7},{"x":287.48,"y":35.7},{"x":287.18,"y":39.7},{"x":286.89,"y":43},{"x":286.6,"y":45.7},{"x":286.38,"y":49},{"x":286.17,"y":51.7},{"x":285.99,"y":55},{"x":285.87,"y":59},{"x":285.73,"y":67.3},{"x":285.58,"y":79},{"x":285.44,"y":92.3},{"x":285.29,"y":105.7},{"x":285.15,"y":117.3},{"x":285,"y":125.7},{"x":284.85,"y":131.7},{"x":284.78,"y":132.3},{"x":284.71,"y":130.7},{"x":284.56,"y":124},{"x":284.42,"y":112.3},{"x":284.27,"y":95.7},{"x":284.13,"y":77.3},{"x":283.98,"y":59},{"x":283.84,"y":44},{"x":283.69,"y":34},{"x":283.54,"y":27.3},{"x":283.33,"y":20.7},{"x":283.11,"y":17.3},{"x":282.82,"y":15},{"x":282.55,"y":14}],
  "f_comp": [
    {"s":"C-C","x":291.55,"y":15},{"s":"C-C","x":287.91,"y":15},{"s":"C-C","x":286.75,"y":15.7},{"s":"C-C","x":286.17,"y":20.7},{"s":"C-C","x":285.87,"y":29},{"s":"C-C","x":285.66,"y":42.3},{"s":"C-C","x":285.44,"y":65.7},{"s":"C-C","x":285.29,"y":84},{"s":"C-C","x":285.15,"y":102.3},{"s":"C-C","x":285,"y":115.7},{"s":"C-C","x":284.88,"y":123},{"s":"C-C","x":284.83,"y":125},{"s":"C-C","x":284.74,"y":123},{"s":"C-C","x":284.59,"y":114},{"s":"C-C","x":284.42,"y":99},{"s":"C-C","x":284.27,"y":82.3},{"s":"C-C","x":284.13,"y":64},{"s":"C-C","x":283.98,"y":49},{"s":"C-C","x":283.84,"y":35.7},{"s":"C-C","x":283.62,"y":24},{"s":"C-C","x":283.33,"y":17.3},{"s":"C-C","x":282.96,"y":14},{"s":"C-C","x":282.55,"y":13},
    {"s":"C-N","x":291.55,"y":15},{"s":"C-N","x":289.37,"y":15.7},{"s":"C-N","x":288.5,"y":19},{"s":"C-N","x":287.91,"y":25},{"s":"C-N","x":287.33,"y":34},{"s":"C-N","x":286.89,"y":40.7},{"s":"C-N","x":286.67,"y":44},{"s":"C-N","x":286.53,"y":45},{"s":"C-N","x":286.31,"y":43},{"s":"C-N","x":286.02,"y":37.3},{"s":"C-N","x":285.58,"y":29},{"s":"C-N","x":285,"y":22.3},{"s":"C-N","x":284.27,"y":18},{"s":"C-N","x":283.54,"y":15.7},{"s":"C-N","x":282.55,"y":14},
    {"s":"O-C=O","x":291.55,"y":15.7},{"s":"O-C=O","x":290.83,"y":16.7},{"s":"O-C=O","x":290.1,"y":19.7},{"s":"O-C=O","x":289.51,"y":22.3},{"s":"O-C=O","x":289,"y":23.3},{"s":"O-C=O","x":288.5,"y":21.7},{"s":"O-C=O","x":287.91,"y":18.3},{"s":"O-C=O","x":287.33,"y":15.7},{"s":"O-C=O","x":286.46,"y":14},{"s":"O-C=O","x":282.55,"y":13.3}
  ]
},
"spacing": 0,
"resolve": {"scale": {"color": "independent"}},
"vconcat": [
 {"hconcat": [
  {"width": 192, "height": 144,
   "encoding": {
     "x": {"field": "x", "type": "quantitative", "scale": {"domain": [-5, 938], "reverse": true, "nice": false, "zero": false}, "axis": {"values": [900,750,600,450,300,150,0], "title": "Binding Energy (eV)"}},
     "y": {"field": "y", "type": "quantitative", "scale": {"domain": [0, 144], "nice": false, "zero": false}, "axis": {"title": "Intensity (a.u.)"}}},
   "layer": [
     {"data": {"name": "a_raw"}, "mark": {"type": "line", "color": "#111", "strokeWidth": 1.1, "clip": true}},
     {"data": {"values": [{"x": 404.2, "y": 25.7, "y2": 49}]}, "mark": {"type": "rule", "color": "#111", "strokeWidth": 1, "strokeDash": [2, 1.5]}, "encoding": {"y2": {"field": "y2"}}},
     {"data": {"values": [{"x":880.4,"y":117.3,"t":"Ni 2p"},{"x":790.4,"y":109,"t":"Co 2p"},{"x":535,"y":87.3,"t":"O 1s"},{"x":404.2,"y":55.7,"t":"N 1s"},{"x":285,"y":45.7,"t":"C 1s"},{"x":147,"y":45.7,"t":"S 2p"}]}, "mark": {"type": "text", "angle": 270, "align": "left", "baseline": "middle", "fontSize": 9.5}, "encoding": {"text": {"field": "t"}}},
     {"data": {"values": [{"x": 938, "y": 144, "t": "a"}]}, "mark": {"type": "text", "align": "left", "baseline": "alphabetic", "dx": -16, "dy": 9, "fontSize": 17}, "encoding": {"text": {"field": "t"}}}
   ]},
  {"width": 207, "height": 146,
   "encoding": {
     "x": {"field": "x", "type": "quantitative", "scale": {"domain": [850, 888], "reverse": true, "nice": false, "zero": false}, "axis": {"values": [888,882,876,870,864,858,852], "title": "Binding Energy (eV)"}},
     "y": {"field": "y", "type": "quantitative", "scale": {"domain": [0, 146], "nice": false, "zero": false}, "axis": {"title": "Intensity (a.u.)"}}},
   "layer": [
     {"data": {"name": "b_raw"}, "mark": {"type": "line", "color": "#111", "strokeWidth": 1, "clip": true}},
     {"data": {"name": "b_comp"}, "mark": {"type": "line", "strokeWidth": 1.3, "clip": true}, "encoding": {"color": {"field": "s", "type": "nominal", "legend": null, "scale": {"domain": ["Sat. 2p1/2","Ni2+ 2p1/2","Ni3+ 2p1/2","Sat. 2p3/2","Ni2+ 2p3/2","Ni3+ 2p3/2"], "range": ["#35359c","#f2a04c","#e63ce6","#aaa23c","#e63ce6","#1e1ee6"]}}}},
     {"data": {"name": "b_fit"}, "mark": {"type": "line", "color": "#e3211c", "strokeWidth": 1.6, "clip": true}},
     {"data": {"values": [{"x":880.7,"y":82.7,"t":"Sat."},{"x":875.1,"y":90.3,"t":"2+"},{"x":868.6,"y":78.3,"t":"3+"},{"x":862.1,"y":61.7,"t":"Sat."},{"x":856.9,"y":78,"t":"2+"},{"x":854.9,"y":113.7,"t":"3+"}]}, "mark": {"type": "text", "fontSize": 9.5, "baseline": "middle"}, "encoding": {"text": {"field": "t"}}},
     {"data": {"values": [{"x":870.43,"y":95,"t":"2p","u":"1/2"},{"x":853.65,"y":134.3,"t":"2p","u":"3/2"}]}, "layer": [
        {"mark": {"type": "text", "fontSize": 11, "align": "right", "baseline": "middle"}, "encoding": {"text": {"field": "t"}}},
        {"mark": {"type": "text", "fontSize": 7.5, "align": "left", "baseline": "middle", "dx": 0.5, "dy": 3.5}, "encoding": {"text": {"field": "u"}}}]},
     {"data": {"values": [{"x": 886.5, "y": 134.3, "t": "Ni 2p"}]}, "mark": {"type": "text", "align": "left", "baseline": "middle", "fontSize": 10.5}, "encoding": {"text": {"field": "t"}}},
     {"data": {"values": [{"x": 888, "y": 146, "t": "b"}]}, "mark": {"type": "text", "align": "left", "baseline": "alphabetic", "dx": -17, "dy": 12, "fontSize": 17}, "encoding": {"text": {"field": "t"}}}
   ]},
  {"width": 206, "height": 146,
   "encoding": {
     "x": {"field": "x", "type": "quantitative", "scale": {"domain": [775, 810], "reverse": true, "nice": false, "zero": false}, "axis": {"values": [808,800,792,784,776], "title": "Binding Energy (eV)"}},
     "y": {"field": "y", "type": "quantitative", "scale": {"domain": [0, 146], "nice": false, "zero": false}, "axis": {"title": "Intensity (a.u.)"}}},
   "layer": [
     {"data": {"name": "c_raw"}, "mark": {"type": "line", "color": "#111", "strokeWidth": 1, "strokeDash": [1.5, 1], "clip": true}},
     {"data": {"name": "c_comp"}, "mark": {"type": "line", "strokeWidth": 1.3, "clip": true}, "encoding": {"color": {"field": "s", "type": "nominal", "legend": null, "scale": {"domain": ["bg","Sat. 2p1/2","Co2+ 2p1/2","Co3+ 2p1/2","Sat. 2p3/2","Co2+ 2p3/2","Co3+ 2p3/2"], "range": ["#34348e","#eba05c","#3434b0","#e640e6","#b3a246","#e640e6","#1e1ee6"]}}}},
     {"data": {"name": "c_fit"}, "mark": {"type": "line", "color": "#e3211c", "strokeWidth": 1.6, "clip": true}},
     {"data": {"values": [{"x":802.9,"y":62.7,"t":"Sat."},{"x":797.3,"y":61,"t":"2+"},{"x":791.3,"y":57.7,"t":"3+"},{"x":785.7,"y":48.7,"t":"Sat."},{"x":781.9,"y":62,"t":"2+"},{"x":780.1,"y":96,"t":"3+"}]}, "mark": {"type": "text", "fontSize": 9.5, "baseline": "middle"}, "encoding": {"text": {"field": "t"}}},
     {"data": {"values": [{"x":793.5,"y":76.7,"t":"2p","u":"1/2"},{"x":778.6,"y":132.3,"t":"2p","u":"3/2"}]}, "layer": [
        {"mark": {"type": "text", "fontSize": 11, "align": "right", "baseline": "middle"}, "encoding": {"text": {"field": "t"}}},
        {"mark": {"type": "text", "fontSize": 7.5, "align": "left", "baseline": "middle", "dx": 0.5, "dy": 3.5}, "encoding": {"text": {"field": "u"}}}]},
     {"data": {"values": [{"x": 808.85, "y": 135, "t": "Co 2p"}]}, "mark": {"type": "text", "align": "left", "baseline": "middle", "fontSize": 10.5}, "encoding": {"text": {"field": "t"}}},
     {"data": {"values": [{"x": 810, "y": 146, "t": "c"}]}, "mark": {"type": "text", "align": "left", "baseline": "alphabetic", "dx": -19, "dy": 9, "fontSize": 17}, "encoding": {"text": {"field": "t"}}}
   ]}
 ], "spacing": 24, "bounds": "flush", "resolve": {"scale": {"color": "independent"}}},
 {"hconcat": [
  {"width": 192, "height": 144,
   "encoding": {
     "x": {"field": "x", "type": "quantitative", "scale": {"domain": [158, 174], "reverse": true, "nice": false, "zero": false}, "axis": {"values": [174,171,168,165,162,159], "title": "Binding Energy (eV)"}},
     "y": {"field": "y", "type": "quantitative", "scale": {"domain": [0, 144], "nice": false, "zero": false}, "axis": {"title": "Intensity (a.u.)"}}},
   "layer": [
     {"data": {"name": "d_raw"}, "mark": {"type": "line", "color": "#111", "strokeWidth": 1, "clip": true}},
     {"data": {"name": "d_comp"}, "mark": {"type": "line", "strokeWidth": 1.4, "clip": true}, "encoding": {"color": {"field": "s", "type": "nominal", "legend": null, "scale": {"domain": ["bg","Sat.","2p1/2","2p3/2"], "range": ["#b89a5a","#e23cdc","#2a2ad2","#b8a23e"]}}}},
     {"data": {"name": "d_fit"}, "mark": {"type": "line", "color": "#e3211c", "strokeWidth": 1.6, "clip": true}},
     {"data": {"values": [{"x":169.48,"y":61.7,"t":"Sat."}]}, "mark": {"type": "text", "fontSize": 9.5, "baseline": "middle"}, "encoding": {"text": {"field": "t"}}},
     {"data": {"values": [{"x":163.6,"y":89.5,"t":"2p","u":"1/2"},{"x":160.44,"y":88.3,"t":"2p","u":"3/2"}]}, "layer": [
        {"mark": {"type": "text", "fontSize": 11, "align": "right", "baseline": "middle"}, "encoding": {"text": {"field": "t"}}},
        {"mark": {"type": "text", "fontSize": 7.5, "align": "left", "baseline": "middle", "dx": 0.5, "dy": 3.5}, "encoding": {"text": {"field": "u"}}}]},
     {"data": {"values": [{"x": 173.39, "y": 131.7, "t": "S 2p"}]}, "mark": {"type": "text", "align": "left", "baseline": "middle", "fontSize": 10.5}, "encoding": {"text": {"field": "t"}}},
     {"data": {"values": [{"x": 174, "y": 144, "t": "d"}]}, "mark": {"type": "text", "align": "left", "baseline": "alphabetic", "dx": -20, "dy": 15, "fontSize": 17}, "encoding": {"text": {"field": "t"}}}
   ]},
  {"width": 209, "height": 144,
   "encoding": {
     "x": {"field": "x", "type": "quantitative", "scale": {"domain": [393, 408], "reverse": true, "nice": false, "zero": false}, "axis": {"values": [408,405,402,399,396,393], "title": "Binding Energy (eV)"}},
     "y": {"field": "y", "type": "quantitative", "scale": {"domain": [0, 144], "nice": false, "zero": false}, "axis": {"title": "Intensity (a.u.)"}}},
   "layer": [
     {"data": {"name": "e_raw"}, "mark": {"type": "line", "color": "#111", "strokeWidth": 1.2, "clip": true}},
     {"data": {"name": "e_comp"}, "mark": {"type": "line", "strokeWidth": 1.4, "clip": true}, "encoding": {"color": {"field": "s", "type": "nominal", "legend": null, "scale": {"domain": ["bg","-N=","-NH-"], "range": ["#b0a040","#f08a30","#1e1ee0"]}}}},
     {"data": {"name": "e_fit"}, "mark": {"type": "line", "color": "#e3211c", "strokeWidth": 1.6, "clip": true}},
     {"data": {"values": [{"x":402.1,"y":93,"t":"-N="},{"x":397,"y":71.7,"t":"-NH-"}]}, "mark": {"type": "text", "fontSize": 10, "baseline": "middle"}, "encoding": {"text": {"field": "t"}}},
     {"data": {"values": [{"x": 407.64, "y": 134, "t": "N 1s"}]}, "mark": {"type": "text", "align": "left", "baseline": "middle", "fontSize": 10.5}, "encoding": {"text": {"field": "t"}}},
     {"data": {"values": [{"x": 408, "y": 144, "t": "e"}]}, "mark": {"type": "text", "align": "left", "baseline": "alphabetic", "dx": -17, "dy": 14, "fontSize": 17}, "encoding": {"text": {"field": "t"}}}
   ]},
  {"width": 206, "height": 144,
   "encoding": {
     "x": {"field": "x", "type": "quantitative", "scale": {"domain": [282.55, 291.55], "reverse": true, "nice": false, "zero": false}, "axis": {"values": [291,289.5,288,286.5,285,283.5], "format": ".1f", "title": "Binding Energy (eV)"}},
     "y": {"field": "y", "type": "quantitative", "scale": {"domain": [0, 144], "nice": false, "zero": false}, "axis": {"title": "Intensity (a.u.)"}}},
   "layer": [
     {"data": {"name": "f_raw"}, "mark": {"type": "line", "color": "#111", "strokeWidth": 1, "clip": true}},
     {"data": {"name": "f_comp"}, "mark": {"type": "line", "strokeWidth": 1.4, "clip": true}, "encoding": {"color": {"field": "s", "type": "nominal", "legend": null, "scale": {"domain": ["C-C","C-N","O-C=O"], "range": ["#2a2ad2","#f0a050","#e040e0"]}}}},
     {"data": {"name": "f_fit"}, "mark": {"type": "line", "color": "#e3211c", "strokeWidth": 1.6, "clip": true}},
     {"data": {"values": [{"x":285.87,"y":121.7,"t":"C-C"},{"x":286.86,"y":53,"t":"C-N"},{"x":288.82,"y":34,"t":"O-C=O"}]}, "mark": {"type": "text", "fontSize": 10, "baseline": "middle"}, "encoding": {"text": {"field": "t"}}},
     {"data": {"values": [{"x": 291.29, "y": 133.3, "t": "C 1s"}]}, "mark": {"type": "text", "align": "left", "baseline": "middle", "fontSize": 10.5}, "encoding": {"text": {"field": "t"}}},
     {"data": {"values": [{"x": 291.55, "y": 144, "t": "f"}]}, "mark": {"type": "text", "align": "left", "baseline": "alphabetic", "dx": -13, "dy": 12, "fontSize": 17}, "encoding": {"text": {"field": "t"}}}
   ]}
 ], "spacing": 23, "bounds": "flush", "resolve": {"scale": {"color": "independent"}}}
]
}
